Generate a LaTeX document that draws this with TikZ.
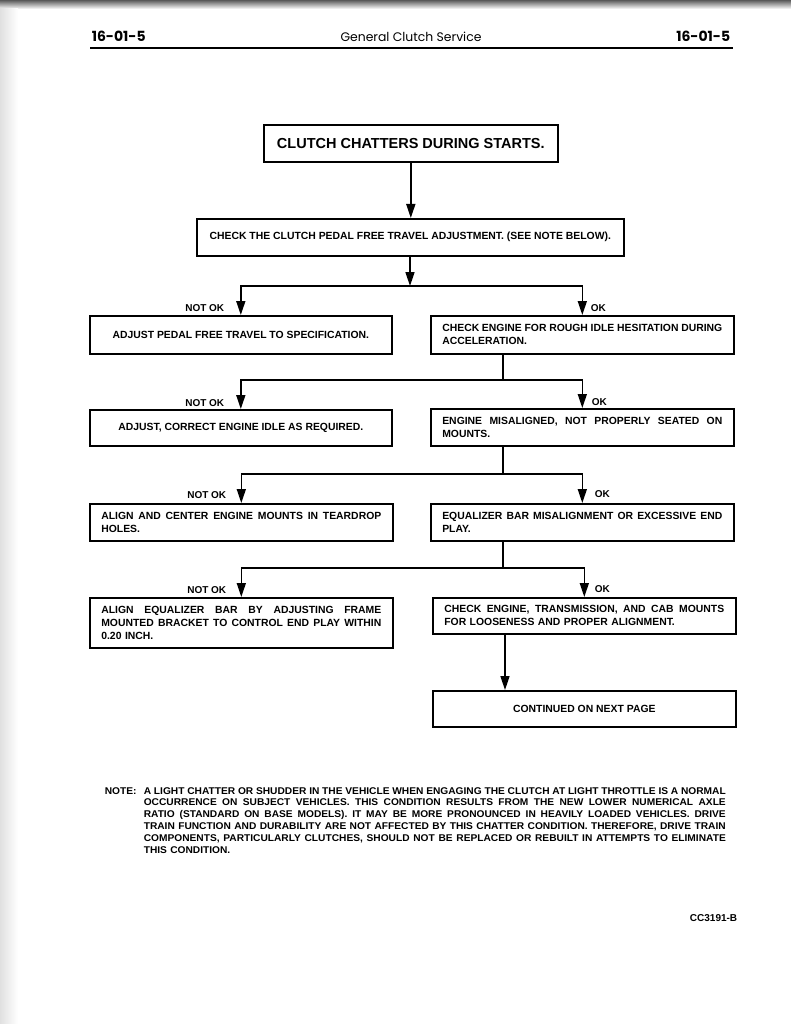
\documentclass[tikz,border=0pt]{standalone}
\usepackage{fontspec}
\setmainfont{Liberation Sans}
\newfontfamily\headfont{Poppins}
\newfontfamily\boxfont{Liberation Sans}
\newfontfamily\notefont{Liberation Sans}[FakeStretch=1.04]
\usetikzlibrary{arrows.meta}
\newcommand{\jl}[2][280pt]{{\spaceskip=0pt\xspaceskip=0pt\makebox[#1][s]{#2}}}

\begin{document}
\begin{tikzpicture}[x=1pt, y=-1pt, line width=1.6pt,
  box/.style={draw, rectangle, inner sep=0pt, anchor=north west, align=center,
    font=\boxfont\bfseries\fontsize{10.4}{12.8}\selectfont},
  wbox/.style={box, text width=280pt, inner xsep=11.5pt, align=left},
  lbl/.style={inner sep=0pt, font=\boxfont\bfseries\fontsize{10}{11}\selectfont},
  hd/.style={inner sep=0pt, font=\headfont\fontsize{12.4}{15}\selectfont},
  arr/.style={-{Triangle[length=14pt,width=9pt]}}]
  \useasboundingbox (0,0) rectangle (791,1024);
  \fill[white] (0,0) rectangle (791,1024);
  \shade[top color=black!65, bottom color=white] (0,0) rectangle (791,9);
  \shade[left color=black!12, right color=white] (0,9) rectangle (18,1024);

  \node[hd, anchor=base west, font=\headfont\bfseries\fontsize{14}{15}\selectfont] (pgl) at (91,42) {16-01-5};
  \node[hd, anchor=base] (title) at (411,42) {General Clutch Service};
  \node[hd, anchor=base east, font=\headfont\bfseries\fontsize{14}{15}\selectfont] (pgr) at (731,42) {16-01-5};
  \draw[line width=1.4pt] (90,48) -- (733,48);

  \node[box, minimum width=294pt, minimum height=37pt, font=\bfseries\fontsize{14.5}{17}\selectfont] (start) at (263,124) {CLUTCH CHATTERS DURING STARTS.};
  \node[box, minimum width=427pt, minimum height=37pt] (pedal) at (196,218) {CHECK THE CLUTCH PEDAL FREE TRAVEL ADJUSTMENT. (SEE NOTE BELOW).};
  \coordinate (b1) at (410,286);
  \node[box, minimum width=302pt, minimum height=38pt] (adjpedal) at (89,315) {ADJUST PEDAL FREE TRAVEL TO SPECIFICATION.};
  \node[wbox, minimum height=38pt] (rough) at (430,315) {\jl{CHECK ENGINE FOR ROUGH IDLE HESITATION DURING}\\ACCELERATION.};
  \coordinate (b2) at (503,380);
  \node[box, minimum width=302pt, minimum height=36pt] (idle) at (89,409) {ADJUST, CORRECT ENGINE IDLE AS REQUIRED.};
  \node[wbox, minimum height=37pt] (misalign) at (430,408) {\jl{ENGINE MISALIGNED, NOT PROPERLY SEATED ON}\\MOUNTS.};
  \coordinate (b3) at (503,474);
  \node[wbox, minimum height=37pt] (teardrop) at (89,503) {\jl{ALIGN AND CENTER ENGINE MOUNTS IN TEARDROP}\\HOLES.};
  \node[wbox, minimum height=37pt] (endplay) at (430,503) {\jl{EQUALIZER BAR MISALIGNMENT OR EXCESSIVE END}\\PLAY.};
  \coordinate (b4) at (503,568);
  \node[wbox, minimum height=50pt] (bracket) at (89,597) {\jl{ALIGN EQUALIZER BAR BY ADJUSTING FRAME}\\\jl{MOUNTED BRACKET TO CONTROL END PLAY WITHIN}\\0.20 INCH.};
  \node[wbox, minimum height=36pt] (mounts) at (432,597) {\jl{CHECK ENGINE, TRANSMISSION, AND CAB MOUNTS}\\FOR LOOSENESS AND PROPER ALIGNMENT.};
  \coordinate (b5) at (505,690);
  \node[box, minimum width=303pt, minimum height=36pt] (nextpage) at (432,690) {CONTINUED ON NEXT PAGE};

  \draw[arr] (start.south) -- (start.south |- pedal.north);
  \draw[arr] (pedal.south -| b1) -- (b1);
  \draw[arr] (b1) -| (adjpedal.north);
  \draw[arr] (b1) -| (rough.north);
  \draw (rough.south -| b2) -- (b2);
  \draw[arr] (b2) -| (idle.north);
  \draw[arr] (b2) -| (misalign.north);
  \draw (misalign.south -| b3) -- (b3);
  \draw[arr] (b3) -| (teardrop.north);
  \draw[arr] (b3) -| (endplay.north);
  \draw (endplay.south -| b4) -- (b4);
  \draw[arr] (b4) -| (bracket.north);
  \draw[arr] (b4) -| (mounts.north);
  \draw[arr] (mounts.south -| b5) -- (b5);

  \node[lbl, anchor=base east] (nok1) at (225,311) {NOT OK};
  \node[lbl, anchor=base west] (ok1) at (590,311) {OK};
  \node[lbl, anchor=base east] (nok2) at (225,406) {NOT OK};
  \node[lbl, anchor=base west] (ok2) at (591,405) {OK};
  \node[lbl, anchor=base east] (nok3) at (227,498) {NOT OK};
  \node[lbl, anchor=base west] (ok3) at (594,497) {OK};
  \node[lbl, anchor=base east] (nok4) at (227,593) {NOT OK};
  \node[lbl, anchor=base west] (ok4) at (594,592) {OK};

  \node[lbl, anchor=base west, text width=582pt, align=left, font=\notefont\bfseries\fontsize{9.8}{11.8}\selectfont] (note) at (143,794)
    {\jl[582pt]{A LIGHT CHATTER OR SHUDDER IN THE VEHICLE WHEN ENGAGING THE CLUTCH AT LIGHT THROTTLE IS A NORMAL}\\
     \jl[582pt]{OCCURRENCE ON SUBJECT VEHICLES. THIS CONDITION RESULTS FROM THE NEW LOWER NUMERICAL AXLE}\\
     \jl[582pt]{RATIO (STANDARD ON BASE MODELS). IT MAY BE MORE PRONOUNCED IN HEAVILY LOADED VEHICLES. DRIVE}\\
     \jl[582pt]{TRAIN FUNCTION AND DURABILITY ARE NOT AFFECTED BY THIS CHATTER CONDITION. THEREFORE, DRIVE TRAIN}\\
     \jl[582pt]{COMPONENTS, PARTICULARLY CLUTCHES, SHOULD NOT BE REPLACED OR REBUILT IN ATTEMPTS TO ELIMINATE}\\
     THIS CONDITION.};
  \node[lbl, anchor=base west, font=\notefont\bfseries\fontsize{9.8}{11.8}\selectfont] (notehd) at (104,794) {NOTE:};
  \node[lbl, anchor=base east] (figid) at (738,921) {CC3191-B};
\end{tikzpicture}
\end{document}
